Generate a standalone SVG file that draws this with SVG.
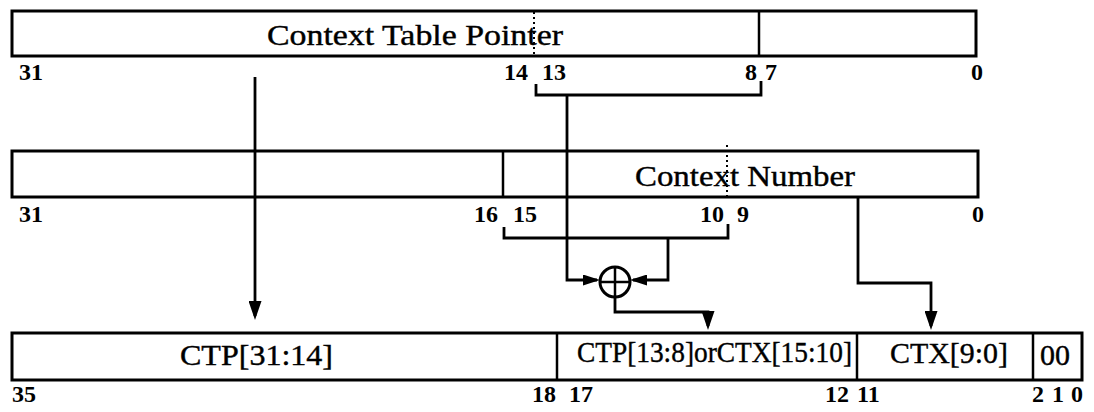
<svg xmlns="http://www.w3.org/2000/svg" width="1094" height="412" viewBox="0 0 1094 412">
<defs>
<style>
.box{fill:none;stroke:#000;stroke-width:3}
.div{stroke:#000;stroke-width:2.5}
.dot{stroke:#000;stroke-width:2;stroke-dasharray:2,3}
.wire{fill:none;stroke:#000;stroke-width:2.8}
.lbl{font-family:"Liberation Serif","Times New Roman",serif;font-size:30px;fill:#000;stroke:#000;stroke-width:0.4}
.num{font-family:"Liberation Serif","Times New Roman",serif;font-size:24px;font-weight:bold;fill:#000}
</style>
<marker id="ah" markerWidth="19" markerHeight="13" refX="15" refY="6.5" orient="auto" markerUnits="userSpaceOnUse">
<path d="M0,0 L19,6.5 L0,13 Z" fill="#000"/>
</marker>
<marker id="ahs" markerWidth="17" markerHeight="11" refX="14" refY="5.5" orient="auto" markerUnits="userSpaceOnUse">
<path d="M0,0 L17,5.5 L0,11 Z" fill="#000"/>
</marker>
</defs>

<g id="ctp-register">
<rect class="box" x="12" y="11" width="964" height="45"/>
<line class="div" x1="759" y1="11" x2="759" y2="56"/>
<line class="dot" x1="534" y1="12" x2="534" y2="56"/>
<text class="lbl" x="267" y="45" textLength="296" lengthAdjust="spacingAndGlyphs">Context Table Pointer</text>
<text class="num" x="19" y="80">31</text>
<text class="num" x="528" y="80" text-anchor="end">14</text>
<text class="num" x="542" y="80">13</text>
<text class="num" x="757" y="80" text-anchor="end">8</text>
<text class="num" x="765" y="80">7</text>
<text class="num" x="971" y="80">0</text>
</g>

<g id="ctx-register">
<rect class="box" x="12" y="151" width="966" height="46"/>
<line class="div" x1="503" y1="151" x2="503" y2="197"/>
<line class="dot" x1="727" y1="145" x2="727" y2="197"/>
<text class="lbl" x="635" y="186" textLength="220" lengthAdjust="spacingAndGlyphs">Context Number</text>
<text class="num" x="19" y="222">31</text>
<text class="num" x="498" y="222" text-anchor="end">16</text>
<text class="num" x="513" y="222">15</text>
<text class="num" x="724" y="222" text-anchor="end">10</text>
<text class="num" x="737" y="222">9</text>
<text class="num" x="972" y="222">0</text>
</g>

<g id="xor">
<circle cx="615" cy="282" r="15" fill="none" stroke="#000" stroke-width="3"/>
<line class="div" x1="600" y1="282" x2="630" y2="282"/>
<line class="div" x1="615" y1="267" x2="615" y2="297"/>
</g>

<g id="physical-address">
<rect class="box" x="12" y="333" width="1070" height="47"/>
<line class="div" x1="557" y1="333" x2="557" y2="380"/>
<line class="div" x1="857" y1="333" x2="857" y2="380"/>
<line class="div" x1="1033" y1="333" x2="1033" y2="380"/>
<text class="lbl" x="180" y="365" textLength="153" lengthAdjust="spacingAndGlyphs">CTP[31:14]</text>
<text class="lbl" x="577" y="362" font-size="26" textLength="275" lengthAdjust="spacingAndGlyphs">CTP[13:8]orCTX[15:10]</text>
<text class="lbl" x="890" y="363" textLength="118" lengthAdjust="spacingAndGlyphs">CTX[9:0]</text>
<text class="lbl" x="1040" y="365" textLength="30" lengthAdjust="spacingAndGlyphs">00</text>
<text class="num" x="12" y="402">35</text>
<text class="num" x="556" y="402" text-anchor="end">18</text>
<text class="num" x="569" y="402">17</text>
<text class="num" x="849" y="402" text-anchor="end">12</text>
<text class="num" x="857" y="402">11</text>
<text class="num" x="1032" y="402">2</text>
<text class="num" x="1052" y="402">1</text>
<text class="num" x="1071" y="402">0</text>
</g>

<g id="connectors">
<path class="wire" d="M255,77 L255,316" marker-end="url(#ah)"/>
<path class="wire" d="M536,84 L536,95 L761,95 L761,81"/>
<path class="wire" d="M567,95 L567,280 L597,280" marker-end="url(#ahs)"/>
<path class="wire" d="M504,227 L504,238 L728,238 L728,224"/>
<path class="wire" d="M668,238 L668,280 L633,280" marker-end="url(#ahs)"/>
<path class="wire" d="M615,297 L615,312 L708,312 L708,326" marker-end="url(#ah)"/>
<path class="wire" d="M858,197 L858,283 L931,283 L931,326" marker-end="url(#ah)"/>
</g>
</svg>
